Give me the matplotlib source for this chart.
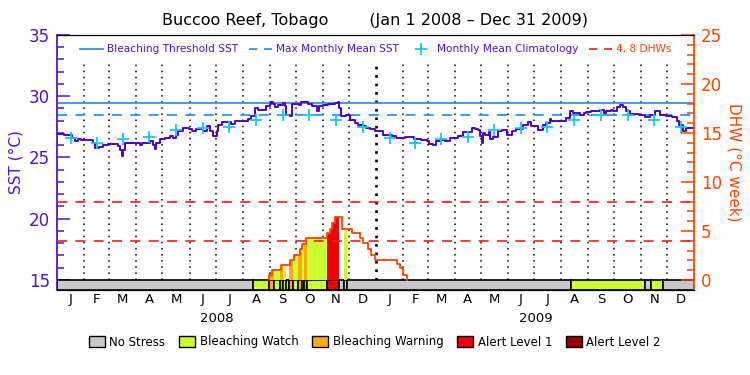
import numpy as np
import matplotlib
matplotlib.use("Agg")
from matplotlib import pyplot as plt
from matplotlib.lines import Line2D
from matplotlib.patches import Patch
import matplotlib.transforms as mtransforms

# ---- data ----
SITE = "Buccoo Reef, Tobago"
PERIOD = "(Jan 1 2008 \u2013 Dec 31 2009)"
YEARS = ["2008", "2009"]
MONTH_LETTERS = ["J", "F", "M", "A", "M", "J", "J", "A", "S", "O", "N", "D"]

# SST (deg C), days since Jan 1 2008
sst_days = [0, 8, 14, 17, 21, 24, 27, 35, 41, 44, 48, 53, 59, 66, 70, 72, 74, 76, 78, 89,
            95, 97, 103, 107, 110, 112, 114, 118, 124, 130, 133, 137, 139, 145, 151, 155, 160,
            166, 168, 172, 175, 179, 183, 185, 189, 197, 200, 204, 212, 219, 223, 227, 231,
            236, 240, 244, 246, 248, 250, 254, 259, 261, 263, 267, 269, 275, 278, 280, 286,
            288, 292, 298, 301, 305, 311, 319, 322, 324, 326, 332, 336, 340, 342, 345, 351,
            355, 359, 365, 370, 374, 378, 384, 389, 395, 399, 407, 410, 418, 424, 427, 431,
            435, 441, 445, 451, 456, 460, 466, 472, 476, 480, 483, 485, 487, 489, 491, 495,
            497, 500, 506, 510, 516, 522, 527, 535, 540, 544, 548, 552, 557, 561, 565, 567,
            580, 584, 588, 592, 598, 600, 604, 607, 613, 617, 623, 626, 628, 630, 636, 638,
            642, 646, 649, 653, 657, 668, 674, 680, 686, 692, 699, 705, 711, 714, 718, 722, 731]
sst_vals = [26.94, 26.86, 26.86, 26.6, 26.37, 26.5, 26.45, 26.45, 26.18, 25.78, 25.85, 26.05,
            26.1, 26.1, 25.9, 25.64, 25.1, 25.64, 26.2, 26.2, 26.05, 26.2, 26.2, 26.32, 26.05,
            25.72, 26.2, 26.53, 26.6, 26.78, 26.6, 26.85, 27.14, 27.41, 27.3, 27.2, 27.3, 27.36,
            27.14, 27.55, 27.2, 26.73, 27.14, 27.68, 27.9, 27.9, 27.75, 27.95, 28.0, 28.17, 28.4,
            29.04, 28.9, 28.9, 29.18, 29.4, 29.5, 29.4, 29.1, 29.31, 29.45, 29.2, 28.5, 28.36,
            29.37, 29.37, 29.31, 29.53, 29.53, 29.37, 29.18, 28.82, 29.18, 29.25, 29.37, 29.45,
            29.53, 29.04, 28.36, 28.45, 28.09, 28.09, 27.82, 27.63, 27.55, 27.41, 27.3, 27.19,
            27.15, 26.81, 26.85, 26.73, 26.6, 26.6, 26.65, 26.65, 26.53, 26.45, 26.37, 26.1,
            26.05, 26.32, 26.45, 26.32, 26.6, 26.55, 26.73, 27.06, 27.1, 27.41, 27.3, 27.27,
            26.73, 26.18, 27.0, 26.86, 27.1, 26.53, 26.7, 27.19, 27.27, 26.86, 27.14, 27.35,
            27.63, 27.87, 27.55, 27.55, 27.27, 27.63, 27.82, 28.17, 27.96, 27.96, 28.22, 28.77,
            28.6, 28.65, 28.5, 28.65, 28.71, 28.77, 28.82, 28.9, 28.9, 28.5, 28.82, 28.9, 28.77,
            29.1, 29.31, 29.1, 28.82, 28.55, 28.5, 28.28, 28.5, 28.77, 28.5, 28.36, 28.28, 27.96,
            27.63, 27.19, 27.41, 27.46]

# monthly mean climatology (Jan..Dec)
clim_vals = [26.6, 26.22, 26.5, 26.65, 27.27, 27.43, 27.46, 28.03, 28.45, 28.45, 28.03, 27.46]
mmm_sst = 28.47
threshold_sst = 29.47
dhw_marks = [4, 8]

# degree heating weeks (step function)
dhw_days = [243, 243, 247, 257, 267, 272, 279, 281, 286, 310, 313, 316, 319, 327, 338, 347,
            351, 357, 360, 365, 390, 393, 397, 401]
dhw_vals = [0, 0.5, 1.0, 1.5, 2.0, 2.5, 3.2, 3.7, 4.25, 4.75, 5.25, 5.8, 6.4, 5.25, 4.75,
            4.25, 3.75, 3.2, 2.6, 2.0, 1.6, 1.2, 0.5, 0.0]

# bleaching alert level segments: start day, end day, level
stress_start = [0, 225, 243, 249, 256, 259, 263, 266, 271, 276, 281, 283, 287, 310, 323,
                329, 333, 590, 674, 681, 695]
stress_end = [225, 243, 249, 256, 259, 263, 266, 271, 276, 281, 283, 287, 310, 323, 329,
              333, 590, 674, 681, 695, 731]
stress_level = [0, 1, 2, 1, 2, 1, 0, 2, 1, 2, 1, 2, 1, 3, 0, 1, 0, 1, 0, 1, 0]
STRESS_NAMES = ["No Stress", "Bleaching Watch", "Bleaching Warning", "Alert Level 1", "Alert Level 2"]
STRESS_COLORS = ["#c8c8c8", "#ccff33", "#ffaa0d", "#f00000", "#960000"]

PURPLE = "#5514c8"
LINE_PURPLE = "#5000c0"
ORANGE = "#ff4500"
BLUE = "#1e8cf0"
CYAN = "#14c8ff"

# ---- figure ----
plt.rcParams["font.family"] = "DejaVu Sans"
fig = plt.figure(figsize=(7.5, 3.75), dpi=100)
ax = fig.add_axes([0.076, 0.2267, 0.8497, 0.68])
ax2 = ax.twinx()

sst_bottom = 15 - 10 / 12.25
ax.set_xlim(0, 731)
ax.set_ylim(sst_bottom, 35)
ax2.set_ylim(-10 / 9.8, 25)

months = np.arange("2008-01", "2010-02", dtype="datetime64[M]").astype("datetime64[D]")
month_days = (months - np.datetime64("2008-01-01")).astype(int)
month_mid = (month_days[:-1] + month_days[1:]) / 2

# month separators (year change drawn heavier)
for d in month_days[1:-1]:
    if d == 366:
        ax.vlines(d, 15, 32.7, colors="black", linestyles=(0, (1, 2.2)), linewidth=1.9, zorder=1)
    else:
        ax.vlines(d, 15, 32.7, colors="black", linestyles=(0, (1, 3)), linewidth=1.1, zorder=1)

# threshold lines
ax.axhline(threshold_sst, color=BLUE, lw=1.2, zorder=2)
ax.axhline(mmm_sst, color=BLUE, lw=1.2, dashes=(6, 5), zorder=2)
for v in dhw_marks:
    ax2.axhline(v, color="#ff1a1a", lw=1.2, dashes=(6, 5), zorder=2)

# stress bar at bottom
for s, e, lv in zip(stress_start, stress_end, stress_level):
    ax.bar(s, 15 - sst_bottom, width=e - s, bottom=sst_bottom, align="edge",
           color=STRESS_COLORS[lv], edgecolor="black", linewidth=1.2, zorder=3)

# DHW fills coloured by alert level
dd = np.array(dhw_days)
dv = np.array(dhw_vals)
def dhw_at(x):
    return dv[np.searchsorted(dd, x, side="right") - 1]

for s, e, lv in zip(stress_start, stress_end, stress_level):
    if lv == 0 or e < dhw_days[0]:
        continue
    x = np.arange(s, e + 1)
    y = dhw_at(np.minimum(x, e - 0.5))
    ax2.fill_between(x, 0, y, step="post", color=STRESS_COLORS[lv], lw=0, zorder=1)

ax2.step(dhw_days, dhw_vals, where="post", color=ORANGE, lw=1.3, zorder=3)

# SST + climatology
ax.plot(sst_days, sst_vals, color=LINE_PURPLE, lw=1.4, drawstyle="steps-post", zorder=4)
ax.plot(month_mid, clim_vals * 2, ls="none", marker="+", ms=8, mew=1.3,
        color=CYAN, zorder=5)

# axes styling
ax.set_yticks([15, 20, 25, 30, 35])
ax.set_yticks(np.arange(15, 36, 1), minor=True)
ax.tick_params(axis="y", which="major", direction="in", length=9.5, width=1.1,
               colors=PURPLE, labelsize=12, pad=5)
ax.tick_params(axis="y", which="minor", direction="in", length=5, width=1.1, color=PURPLE)
ax.set_xticks(month_mid)
ax.set_xticklabels(MONTH_LETTERS * 2)
ax.tick_params(axis="x", length=0, labelsize=9.5, pad=2)
ax.spines["left"].set_color(PURPLE)
ax.spines["left"].set_linewidth(1.3)
ax.spines["right"].set_visible(False)

ax2.set_yticks([0, 5, 10, 15, 20, 25])
ax2.set_yticks(np.arange(0, 26, 1), minor=True)
ax2.tick_params(axis="y", which="major", direction="in", length=9.5, width=1.1,
                colors=ORANGE, labelsize=12, pad=5)
ax2.tick_params(axis="y", which="minor", direction="in", length=5, width=1.1, color=ORANGE)
ax2.spines["right"].set_color(ORANGE)
ax2.spines["right"].set_linewidth(1.3)
ax2.spines["left"].set_visible(False)

ax.set_ylabel("SST (\u00b0C)", color=PURPLE, fontsize=11, labelpad=4)
ax2.set_ylabel("DHW (\u00b0C week)", color=ORANGE, fontsize=11, rotation=270, labelpad=14)

# year labels
trans = mtransforms.blended_transform_factory(ax.transData, ax.transAxes)
for i, yr in enumerate(YEARS):
    ax.text(month_days[12 * i] + 183, -0.085, yr, transform=trans, ha="center", va="top",
            fontsize=9.5)

fig.text(0.5, 0.945, SITE + "        " + PERIOD, ha="center", va="center", fontsize=11.5)

# top legend
handles = [Line2D([], [], color=BLUE, lw=1.2),
           Line2D([], [], color=BLUE, lw=1.2, dashes=(5, 4)),
           Line2D([], [], color=CYAN, ls="none", marker="+", ms=8, mew=1.3),
           Line2D([], [], color="#ff1a1a", lw=1.2, dashes=(5, 4))]
labels = ["Bleaching Threshold SST", "Max Monthly Mean SST", "Monthly Mean Climatology",
          "4, 8 DHWs"]
ax2.legend(handles, labels, loc="upper center", bbox_to_anchor=(0.5, 1.0), ncol=4,
           frameon=False, fontsize=7.6, handlelength=2.2, handletextpad=0.4,
           columnspacing=1.0, labelcolor=[PURPLE] * 3 + [ORANGE])

# bottom legend
patches = [Patch(facecolor=c, edgecolor="black", lw=1) for c in STRESS_COLORS]
fig.legend(patches, STRESS_NAMES, loc="center", bbox_to_anchor=(0.5, 0.088), ncol=5,
           frameon=False, fontsize=8.5, handlelength=1.3, handleheight=1.1,
           handletextpad=0.4, columnspacing=1.2)

fig.savefig("out.png", dpi=100)
